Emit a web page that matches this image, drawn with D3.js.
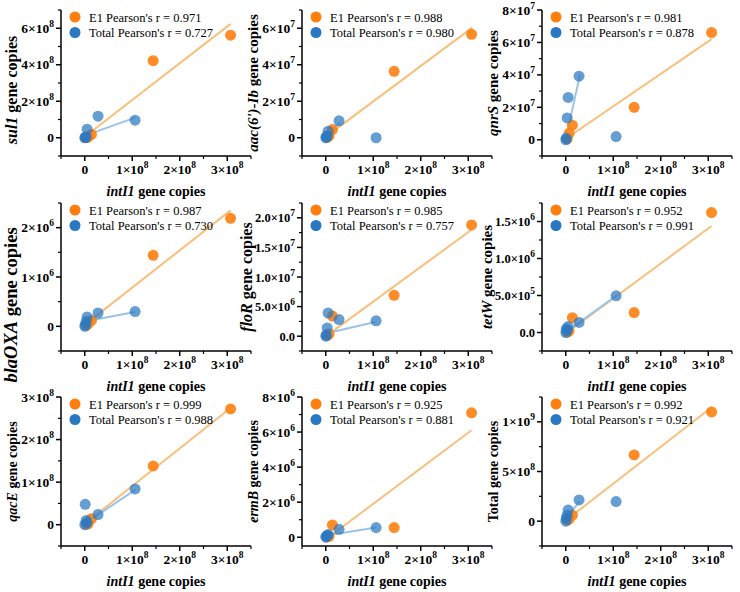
<!DOCTYPE html>
<html>
<head>
<meta charset="utf-8">
<script src="https://cdn.jsdelivr.net/npm/d3@7"></script>
<style>
  body { margin: 0; background: #fff; }
  svg { display: block; }
  text { font-family: "Liberation Serif", "Times New Roman", Times, serif; }
</style>
</head>
<body>
<svg width="740" height="592"></svg>
<script>

// gene panels, left to right, top to bottom
var genes = ["sul1", "aac(6')-Ib", "qnrS", "blaOXA", "floR", "tetW", "qacE", "ermB", "Total"];
var e1R = ["0.971", "0.988", "0.981", "0.987", "0.985", "0.952", "0.999", "0.925", "0.992"];
var totalR = ["0.727", "0.980", "0.878", "0.730", "0.757", "0.991", "0.988", "0.881", "0.921"];

// intI1 copies (x) for each group
var intI1E1 = [3e6, 7e6, 1.4e7, 1.44e8, 3.07e8];
var intI1Total = [0.2e6, 1e6, 3e6, 5e6, 2.8e7, 1.06e8];

// gene copies (y), one row per panel
var geneE1 = [
  [0.01e8, 0.03e8, 0.18e8, 4.22e8, 5.62e8],
  [0.02e7, 0.1e7, 0.45e7, 3.64e7, 5.67e7],
  [0.05e7, 0.4e7, 0.9e7, 2.0e7, 6.61e7],
  [0.02e6, 0.05e6, 0.12e6, 1.44e6, 2.19e6],
  [0.1e6, 0.4e6, 3.4e6, 6.9e6, 18.8e6],
  [0.05e5, 0.2e5, 2.0e5, 2.7e5, 16.2e5],
  [0.01e8, 0.02e8, 0.14e8, 1.38e8, 2.72e8],
  [0.02e6, 0.05e6, 0.7e6, 0.55e6, 7.1e6],
  [0.1e8, 0.2e8, 0.6e8, 6.67e8, 11.0e8]
];
var geneTotal = [
  [0, 0.02e8, 0.05e8, 0.47e8, 1.18e8, 0.96e8],
  [0, 0.05e7, 0.1e7, 0.36e7, 0.93e7, 0.0e7],
  [0, 0.1e7, 1.35e7, 2.61e7, 3.92e7, 0.2e7],
  [0, 0.03e6, 0.1e6, 0.19e6, 0.27e6, 0.3e6],
  [0, 0.2e6, 1.4e6, 3.9e6, 2.8e6, 2.6e6],
  [0, 0.5e5, 0.3e5, 0.8e5, 1.36e5, 4.95e5],
  [0, 0.48e8, 0.1e8, 0.05e8, 0.24e8, 0.84e8],
  [0, 0.05e6, 0.1e6, 0.15e6, 0.45e6, 0.55e6],
  [0, 0.3e8, 0.6e8, 1.12e8, 2.14e8, 1.97e8]
];

// fitted lines [x0, y0, x1, y1]
var e1Fit = [
  [0.02e8, 0.1e8, 3.07e8, 6.24e8],
  [0.02e8, 0.09e7, 3.09e8, 6.05e7],
  [0.01e8, 0.08e7, 3.07e8, 6.2e7],
  [0, 0.03e6, 3.07e8, 2.35e6],
  [0.02e8, 0.01e7, 3.09e8, 1.81e7],
  [0.01e8, -0.01e6, 3.07e8, 1.44e6],
  [0.02e8, 0.04e8, 3.07e8, 2.74e8],
  [0.01e8, -0.1e6, 3.07e8, 6.1e6],
  [0.01e8, 0.01e9, 3.08e8, 1.15e9]
];
var totalFit = [
  [0.02e8, 0.13e8, 1.06e8, 1.1e8],
  [0, 0.02e7, 0.3e8, 0.85e7],
  [0.01e8, 0.18e7, 0.3e8, 4.0e7],
  [0, 0.1e6, 1.06e8, 0.29e6],
  [0.02e8, 0.05e7, 1.04e8, 0.24e7],
  [0.01e8, 0.01e6, 1.06e8, 0.495e6],
  [0.02e8, 0.04e8, 1.06e8, 0.82e8],
  [0, 0.1e6, 1.06e8, 0.55e6],
  [0, 0.2e8, 0.29e8, 2.0e8]
];

var xDomain = [-0.5e8, 3.5e8];
var xTicks = [0, 1e8, 2e8, 3e8];
var yDomains = [[-1e8, 7e8], [-1e7, 7e7], [-1e7, 8e7], [-0.5e6, 2.5e6], [-2.5e6, 2.25e7],
                [-2.5e5, 1.75e6], [-0.5e8, 3e8], [-0.5e6, 8e6], [-2.5e8, 1.25e9]];
var yTicks = [[0, 2e8, 4e8, 6e8], [0, 2e7, 4e7, 6e7], [0, 2e7, 4e7, 6e7, 8e7], [0, 1e6, 2e6],
              [0, 5e6, 1e7, 1.5e7, 2e7], [0, 5e5, 1e6, 1.5e6], [0, 1e8, 2e8, 3e8],
              [0, 2e6, 4e6, 6e6, 8e6], [0, 5e8, 1e9]];
var yDecimals = [0, 0, 0, 0, 1, 1, 0, 0, 0];

// layout
var colX = [61, 302, 542], rowTop = [10, 203, 397], rowBottom = [156, 351, 546];
var plotW = 190;
var titleSize = [16, 15, 15, 18.5, 16, 15, 14, 14, 14];
var titleShift = [7, 0, 0, 28, 0, 0, 0, 0, 0];
var titleDx = [44, 44, 44, 44, 50, 50, 44, 44, 44];
var yLabelSize = [13.5, 13.5, 13.5, 13.5, 12.5, 12.5, 13.5, 13.5, 13.5];

var orange = "#ff7f0e", blue = "#2a78c2";

var svg = d3.select("svg");

// "2×10^8" style label
function sciLabel(sel, v, dec) {
  if (v === 0) { sel.text(dec ? (0).toFixed(dec) : "0"); return; }
  var e = Math.floor(Math.log10(v) + 1e-9);
  var m = v / Math.pow(10, e);
  sel.append("tspan").text(m.toFixed(dec) + "×10");
  sel.append("tspan").attr("dy", -6).attr("font-size", 9.5).text(e);
}

genes.forEach(function(gene, i) {
  var c = i % 3, r = Math.floor(i / 3);
  var x0 = colX[c], top = rowTop[r], bottom = rowBottom[r];

  var x = d3.scaleLinear().domain(xDomain).range([x0, x0 + plotW]);
  var y = d3.scaleLinear().domain(yDomains[i]).range([bottom, top]);
  var g = svg.append("g");

  // axes
  var xStep = xTicks[1] - xTicks[0];
  var xMinor = d3.range(xDomain[0], xDomain[1] + 1, xStep / 2).filter(function(v) { return xTicks.indexOf(v) < 0; });
  var yt = yTicks[i], yStep = yt[1] - yt[0];
  var yMinor = d3.range(Math.ceil(yDomains[i][0] / (yStep / 2)) * yStep / 2, yDomains[i][1] + 1, yStep / 2)
    .filter(function(v) { return yt.every(function(t) { return Math.abs(t - v) > 1; }); });

  var xAxis = g.append("g").attr("transform", "translate(0," + bottom + ")");
  xAxis.append("line").attr("x1", x0).attr("x2", x0 + plotW).attr("stroke", "#000").attr("stroke-width", 1.5);
  xAxis.selectAll(".maj").data(xTicks).enter().append("line")
    .attr("x1", x).attr("x2", x).attr("y1", 0).attr("y2", 5).attr("stroke", "#000").attr("stroke-width", 1.5);
  xAxis.selectAll(".min").data(xMinor).enter().append("line")
    .attr("x1", x).attr("x2", x).attr("y1", 0).attr("y2", 3).attr("stroke", "#000").attr("stroke-width", 1.2);
  xAxis.selectAll("text").data(xTicks).enter().append("text")
    .attr("x", x).attr("y", 18).attr("text-anchor", "middle")
    .attr("font-size", 13.5).attr("font-weight", "bold")
    .each(function(d) { sciLabel(d3.select(this), d, 0); });

  var yAxis = g.append("g").attr("transform", "translate(" + x0 + ",0)");
  yAxis.append("line").attr("y1", top).attr("y2", bottom).attr("stroke", "#000").attr("stroke-width", 1.5);
  yAxis.selectAll(".maj").data(yt).enter().append("line")
    .attr("y1", y).attr("y2", y).attr("x1", 0).attr("x2", -5).attr("stroke", "#000").attr("stroke-width", 1.5);
  yAxis.selectAll(".min").data(yMinor).enter().append("line")
    .attr("y1", y).attr("y2", y).attr("x1", 0).attr("x2", -3).attr("stroke", "#000").attr("stroke-width", 1.2);
  yAxis.selectAll("text").data(yt).enter().append("text")
    .attr("x", -7).attr("y", function(d) { return y(d) + 4.5; }).attr("text-anchor", "end")
    .attr("font-size", yLabelSize[i]).attr("font-weight", "bold")
    .each(function(d) { sciLabel(d3.select(this), d, yDecimals[i]); });

  // titles
  var xt = g.append("text").attr("x", x0 + plotW / 2).attr("y", bottom + 40)
    .attr("text-anchor", "middle").attr("font-size", 14).attr("font-weight", "bold");
  xt.append("tspan").attr("font-style", "italic").text("intI1");
  xt.append("tspan").text(" gene copies");

  var ty = (top + bottom) / 2 + titleShift[i];
  var ytl = g.append("text").attr("transform", "translate(" + (x0 - titleDx[i]) + "," + ty + ") rotate(-90)")
    .attr("text-anchor", "middle").attr("font-size", titleSize[i]).attr("font-weight", "bold");
  ytl.append("tspan").attr("font-style", gene === "Total" ? "normal" : "italic").text(gene);
  ytl.append("tspan").text(" gene copies");

  // fit lines
  [[e1Fit[i], "#fbbf7c"], [totalFit[i], "#9cc3e6"]].forEach(function(f) {
    var l = f[0];
    g.append("line")
      .attr("x1", x(l[0])).attr("y1", y(l[1])).attr("x2", x(l[2])).attr("y2", y(l[3]))
      .attr("stroke", f[1]).attr("stroke-width", 2);
  });

  // points
  g.selectAll(".e1").data(intI1E1).enter().append("circle")
    .attr("cx", function(d) { return x(d); })
    .attr("cy", function(d, k) { return y(geneE1[i][k]); })
    .attr("r", 5.5).attr("fill", orange).attr("fill-opacity", 0.9);
  g.selectAll(".tot").data(intI1Total).enter().append("circle")
    .attr("cx", function(d) { return x(d); })
    .attr("cy", function(d, k) { return y(geneTotal[i][k]); })
    .attr("r", 5.5).attr("fill", blue).attr("fill-opacity", 0.72);

  // legend
  var lg = g.append("g").attr("transform", "translate(" + (x0 + 14) + "," + (top + 7) + ")");
  [["E1 Pearson's r = " + e1R[i], orange], ["Total Pearson's r = " + totalR[i], blue]].forEach(function(d, k) {
    lg.append("circle").attr("cx", 0).attr("cy", k * 15.5).attr("r", 5.5).attr("fill", d[1]);
    lg.append("text").attr("x", 14).attr("y", k * 15.5 + 4.5).attr("font-size", 12.5).text(d[0]);
  });
});
</script>
</body>
</html>
